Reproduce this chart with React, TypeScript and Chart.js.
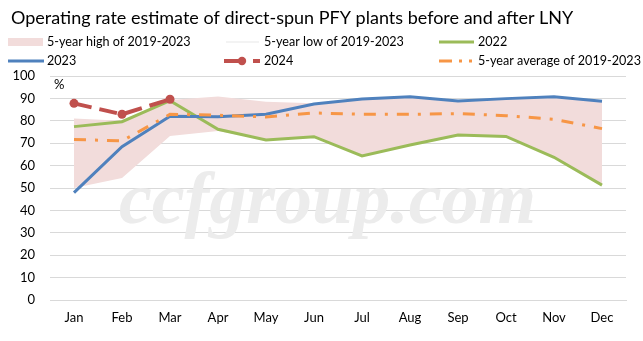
import { useEffect, useRef } from 'react';
import { Chart, registerables } from 'chart.js';
Chart.register(...registerables);

const months = ['Jan', 'Feb', 'Mar', 'Apr', 'May', 'Jun', 'Jul', 'Aug', 'Sep', 'Oct', 'Nov', 'Dec'];
const high5 = [81.0, 80.0, 89.3, 90.8, 88.5, 87.8, 89.6, 90.6, 88.8, 89.9, 90.7, 88.6];
const low5 = [50.0, 54.5, 73.2, 75.5, 71.4, 72.9, 64.3, 69.2, 73.7, 73.0, 63.7, 51.3];
const y2022 = [77.4, 79.6, 89.0, 76.2, 71.4, 72.9, 64.3, 69.2, 73.7, 73.0, 63.7, 51.3];
const y2023 = [47.9, 68.4, 82.0, 81.8, 82.9, 87.5, 89.7, 90.7, 88.8, 89.9, 90.7, 88.7];
const y2024 = [87.8, 82.9, 89.6];
const avg5 = [71.7, 71.0, 82.9, 82.5, 81.7, 83.5, 82.9, 82.9, 83.2, 82.3, 80.7, 76.5];
const yTicks = [0, 10, 20, 30, 40, 50, 60, 70, 80, 90, 100];

const title = 'Operating rate estimate of direct-spun PFY plants before and after LNY';
const legendLabels = [
  '5-year high of 2019-2023',
  '5-year low of 2019-2023',
  '2022',
  '2023',
  '2024',
  '5-year average of 2019-2023',
];
const unitLabel = '%';
const watermark = 'ccfgroup.com';

const C_BLUE = '#4f81bd';
const C_RED = '#c0504d';
const C_GREEN = '#9bbb59';
const C_ORANGE = '#f79646';
const C_PINK = '#f2dcdb';
const FONT = 'Lato';

const decorPlugin = {
  id: 'decor',
  beforeDatasetsDraw(chart: any) {
    const ctx = chart.ctx;
    ctx.save();
    ctx.font = 'italic bold 74px "Liberation Serif"';
    ctx.fillStyle = '#ececec';
    ctx.textAlign = 'center';
    ctx.textBaseline = 'alphabetic';
    ctx.fillText(watermark, 327.5, 223);
    ctx.restore();
  },
  afterDraw(chart: any) {
    const ctx = chart.ctx;
    ctx.save();
    // title
    ctx.fillStyle = '#000';
    ctx.font = `18px ${FONT}`;
    ctx.textAlign = 'left';
    ctx.textBaseline = 'alphabetic';
    ctx.fillText(title, 11, 24);

    // legend
    ctx.font = `12.6px ${FONT}`;
    ctx.textBaseline = 'middle';
    const r1 = 42;
    const r2 = 61;
    // pink box
    ctx.fillStyle = C_PINK;
    ctx.fillRect(8, 38, 35, 8);
    // low line (faint)
    ctx.lineCap = 'butt';
    ctx.strokeStyle = '#f3f3f3';
    ctx.lineWidth = 2;
    ctx.beginPath(); ctx.moveTo(226, r1); ctx.lineTo(259, r1); ctx.stroke();
    // green
    ctx.strokeStyle = C_GREEN; ctx.lineWidth = 3;
    ctx.beginPath(); ctx.moveTo(439, r1); ctx.lineTo(474, r1); ctx.stroke();
    // blue
    ctx.strokeStyle = C_BLUE; ctx.lineWidth = 3;
    ctx.beginPath(); ctx.moveTo(8, r2); ctx.lineTo(44, r2); ctx.stroke();
    // red dashed with marker
    ctx.strokeStyle = C_RED; ctx.lineWidth = 4;
    ctx.beginPath(); ctx.moveTo(224, r2); ctx.lineTo(244, r2); ctx.stroke();
    ctx.beginPath(); ctx.moveTo(253, r2); ctx.lineTo(260, r2); ctx.stroke();
    ctx.fillStyle = C_RED;
    ctx.beginPath(); ctx.arc(242, r2, 4.2, 0, Math.PI * 2); ctx.fill();
    // orange dash-dot
    ctx.strokeStyle = C_ORANGE; ctx.lineWidth = 3;
    ctx.beginPath(); ctx.moveTo(439, r2); ctx.lineTo(452, r2); ctx.stroke();
    ctx.beginPath(); ctx.moveTo(459, r2); ctx.lineTo(462, r2); ctx.stroke();
    ctx.beginPath(); ctx.moveTo(469, r2); ctx.lineTo(472, r2); ctx.stroke();

    ctx.fillStyle = '#000';
    ctx.textAlign = 'left';
    ctx.fillText(legendLabels[0], 47, r1);
    ctx.fillText(legendLabels[1], 264, r1);
    ctx.fillText(legendLabels[2], 478, r1);
    ctx.fillText(legendLabels[3], 47, r2);
    ctx.fillText(legendLabels[4], 264, r2);
    ctx.fillText(legendLabels[5], 478, r2);

    // unit
    ctx.font = `13px ${FONT}`;
    ctx.fillText(unitLabel, 54, 85);
    ctx.restore();
  },
};

export default function App() {
  const ref = useRef<HTMLCanvasElement>(null);
  useEffect(() => {
    document.body.style.margin = '0';
    const chart = new Chart(ref.current!, {
      type: 'line',
      data: {
        labels: months,
        datasets: [
          {
            label: legendLabels[0],
            data: high5,
            borderWidth: 0,
            borderColor: 'rgba(0,0,0,0)',
            pointRadius: 0,
            backgroundColor: C_PINK,
            fill: { target: 1 },
            order: 10,
          },
          {
            label: legendLabels[1],
            data: low5,
            borderWidth: 0,
            borderColor: 'rgba(0,0,0,0)',
            pointRadius: 0,
            fill: false,
            order: 11,
          },
          {
            label: legendLabels[2],
            data: y2022,
            borderColor: C_GREEN,
            borderWidth: 3,
            pointRadius: 0,
            fill: false,
            order: 4,
          },
          {
            label: legendLabels[3],
            data: y2023,
            borderColor: C_BLUE,
            borderWidth: 3,
            pointRadius: 0,
            fill: false,
            order: 3,
          },
          {
            label: legendLabels[4],
            data: y2024,
            borderColor: C_RED,
            backgroundColor: C_RED,
            borderWidth: 4,
            borderDash: [18, 8],
            pointRadius: 4.5,
            pointBorderWidth: 0,
            pointBackgroundColor: C_RED,
            fill: false,
            order: 2,
          },
          {
            label: legendLabels[5],
            data: avg5,
            borderColor: C_ORANGE,
            borderWidth: 3,
            borderDash: [12, 9, 3, 9],
            pointRadius: 0,
            fill: false,
            order: 1,
          },
        ],
      },
      options: {
        responsive: false,
        animation: false,
        devicePixelRatio: 1,
        layout: { padding: { top: 76, right: 17, bottom: 0, left: 0 } },
        plugins: {
          legend: { display: false },
          title: { display: false },
          tooltip: { enabled: false },
        },
        elements: { line: { tension: 0 } },
        scales: {
          x: {
            offset: true,
            grid: { display: false, drawTicks: false },
            border: { display: true, color: '#d9d9d9', width: 1 },
            ticks: { color: '#000', font: { family: FONT, size: 13 }, padding: 10, maxRotation: 0 },
            afterFit(scale: any) { scale.height = 41; },
          },
          y: {
            min: 0,
            max: 100,
            afterBuildTicks(scale: any) { scale.ticks = yTicks.map((v) => ({ value: v })); },
            grid: { color: '#d9d9d9', lineWidth: 1, drawTicks: false },
            border: { display: false },
            ticks: { color: '#000', font: { family: FONT, size: 13 }, padding: 15 },
            afterFit(scale: any) { scale.width = 50; },
          },
        },
      },
      plugins: [decorPlugin],
    });
    return () => chart.destroy();
  }, []);
  return (
    <div style={{ width: 643, height: 341 }}>
      <canvas ref={ref} width={643} height={341} style={{ display: 'block' }} />
    </div>
  );
}
